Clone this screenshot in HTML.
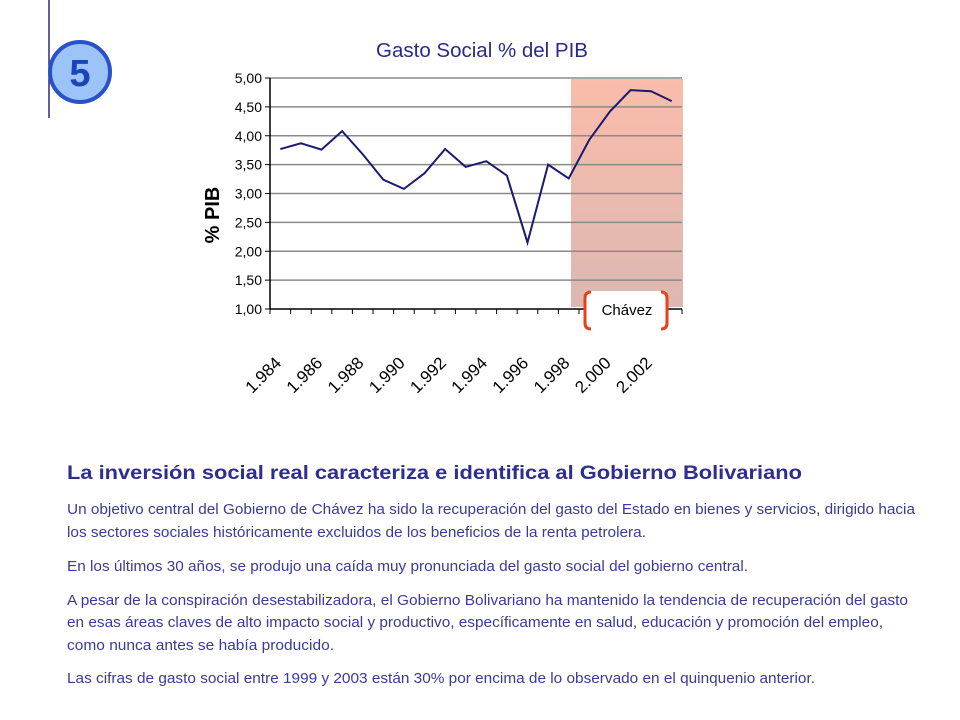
<!DOCTYPE html>
<html><head><meta charset="utf-8"><style>
html,body{margin:0;padding:0;background:#fff;}
svg{display:block;font-family:"Liberation Sans",sans-serif;}
</style></head><body>
<svg id="chart" width="960" height="720" viewBox="0 0 960 720">
<defs>
<linearGradient id="shade" x1="0" y1="0" x2="0" y2="1">
<stop offset="0" stop-color="#fbbcaa"/><stop offset="1" stop-color="#dcb8b2"/>
</linearGradient>
</defs>
<line x1="49" y1="0" x2="49" y2="118" stroke="#2a2a7a" stroke-width="1.5"/>
<g>
<circle cx="80" cy="72" r="30" fill="#9cc4f8" stroke="#2a52c8" stroke-width="4"/>
<text x="80" y="86" text-anchor="middle" font-size="38" font-weight="bold" fill="#1c44b8">5</text>
</g>
<text x="482" y="57" text-anchor="middle" font-size="20.5" fill="#2a2a8c">Gasto Social %  del PIB</text>
<rect x="571" y="79" width="112" height="228" fill="url(#shade)"/>
<g id="grid"></g>
<g id="axes"></g>
<polyline id="series" fill="none" stroke="#1a1a6e" stroke-width="2"/>
<text transform="translate(219,215) rotate(-90)" text-anchor="middle" font-size="20" font-weight="bold" fill="#000">% PIB</text>
<g>
<rect x="585" y="291" width="82" height="38" fill="#fff"/>
<path d="M591 292 Q585 292 585 298 L585 323 Q585 329 591 329" fill="none" stroke="#e8401a" stroke-width="3"/>
<path d="M661 292 Q667 292 667 298 L667 323 Q667 329 661 329" fill="none" stroke="#e8401a" stroke-width="3"/>
<text x="627" y="315" text-anchor="middle" font-size="15" fill="#000">Chávez</text>
</g>
<g>
<text x="67" y="479" font-size="19.5" font-weight="bold" fill="#2e2e8e" textLength="735" lengthAdjust="spacingAndGlyphs">La inversión social real caracteriza e identifica al Gobierno Bolivariano</text>
<g font-size="15" fill="#3a3a9c">
<text x="67" y="514" textLength="848" lengthAdjust="spacingAndGlyphs">Un objetivo central del Gobierno de Chávez ha sido la recuperación del gasto del Estado en bienes y servicios, dirigido hacia</text>
<text x="67" y="537" textLength="579" lengthAdjust="spacingAndGlyphs">los sectores sociales históricamente excluidos de los beneficios de la renta petrolera.</text>
<text x="67" y="571" textLength="681" lengthAdjust="spacingAndGlyphs">En los últimos 30 años, se produjo una caída muy pronunciada del gasto social del gobierno central.</text>
<text x="67" y="605" textLength="841" lengthAdjust="spacingAndGlyphs">A  pesar de la conspiración desestabilizadora, el Gobierno Bolivariano ha mantenido la tendencia de recuperación del gasto</text>
<text x="67" y="627" textLength="816" lengthAdjust="spacingAndGlyphs">en esas áreas claves de alto impacto social y productivo, específicamente en salud, educación y promoción del empleo,</text>
<text x="67" y="650" textLength="267" lengthAdjust="spacingAndGlyphs">como nunca antes se había producido.</text>
<text x="67" y="683" textLength="748" lengthAdjust="spacingAndGlyphs">Las cifras de gasto social entre 1999 y 2003 están 30% por encima de lo observado en el quinquenio anterior.</text>
</g>
</g>
</svg>
<script>
const years = [1984,1985,1986,1987,1988,1989,1990,1991,1992,1993,1994,1995,1996,1997,1998,1999,2000,2001,2002,2003];
const gastoValues = [3.77,3.87,3.76,4.08,3.68,3.24,3.08,3.35,3.77,3.46,3.56,3.31,2.15,3.50,3.26,3.93,4.42,4.79,4.77,4.60];
const yTicks = [1,1.5,2,2.5,3,3.5,4,4.5,5];
const yTickLabels = ["1,00","1,50","2,00","2,50","3,00","3,50","4,00","4,50","5,00"];
const xTickLabels = ["1.984","1.986","1.988","1.990","1.992","1.994","1.996","1.998","2.000","2.002"];

const NS = "http://www.w3.org/2000/svg";
const X0 = 270, X1 = 682, Y0 = 309, Y1 = 78, YMIN = 1, YMAX = 5;
const step = (X1 - X0) / years.length;
const xPos = i => X0 + step * (i + 0.5);
const yPos = v => Y0 - (v - YMIN) / (YMAX - YMIN) * (Y0 - Y1);
function mk(tag, attrs, parent) {
  const e = document.createElementNS(NS, tag);
  for (const k in attrs) e.setAttribute(k, attrs[k]);
  parent.appendChild(e);
  return e;
}
const grid = document.getElementById('grid');
const axes = document.getElementById('axes');
yTicks.forEach((t, i) => {
  const y = yPos(t);
  if (i > 0) {
    const g = mk('line', {x1: X0, x2: X1, y1: y, y2: y, stroke: '#8a8a8a', 'stroke-width': 1.5}, grid);
    
    
  }
  mk('line', {x1: X0 - 5, x2: X0, y1: y, y2: y, stroke: '#000'}, axes);
  const lb = mk('text', {x: X0 - 8, y: y + 5, 'text-anchor': 'end', 'font-size': 14, fill: '#000'}, axes);
  lb.textContent = yTickLabels[i];
  
  
});
const ya = mk('line', {x1: X0, x2: X0, y1: Y1, y2: Y0, stroke: '#000', 'stroke-width': 1.5}, axes);


const xa = mk('line', {x1: X0, x2: X1, y1: Y0, y2: Y0, stroke: '#000', 'stroke-width': 1.5}, axes);


for (let i = 0; i <= years.length; i++) {
  const x = X0 + step * i;
  mk('line', {x1: x, x2: x, y1: Y0, y2: Y0 + 5, stroke: '#000'}, axes);
}
xTickLabels.forEach((l, j) => {
  const x = xPos(j * 2) + 2;
  const t = mk('text', {transform: `translate(${x},${364}) rotate(-45)`, 'text-anchor': 'end', 'font-size': 17, fill: '#000'}, axes);
  t.textContent = l;
  
  
});
document.getElementById('series').setAttribute('points',
  gastoValues.map((v, i) => xPos(i) + ',' + yPos(v)).join(' '));
</script>
</body></html>
